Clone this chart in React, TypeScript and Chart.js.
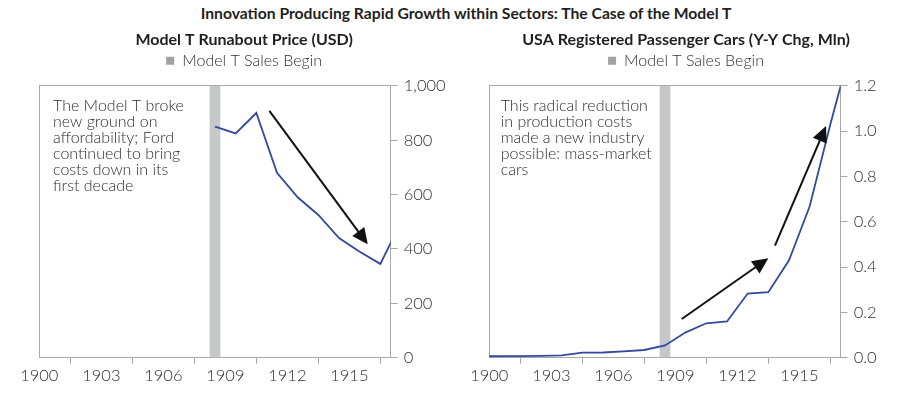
import React, { useEffect, useRef } from "react";
import { Chart, registerables } from "chart.js";

Chart.register(...registerables);

// ---------- data ----------
const MAIN_TITLE = "Innovation Producing Rapid Growth within Sectors: The Case of the Model T";
const LEFT_TITLE = "Model T Runabout Price (USD)";
const RIGHT_TITLE = "USA Registered Passenger Cars (Y-Y Chg, Mln)";
const LEGEND_LABEL = "Model T Sales Begin";

const xTickYears = [1900, 1903, 1906, 1909, 1912, 1915];
const X_MIN = 1900;
const X_MAX = 1917;
const SALES_BEGIN = 1908.5;

// annual values, plotted at mid-year
const priceYears = [1908, 1909, 1910, 1911, 1912, 1913, 1914, 1915, 1916, 1917];
const priceUsd = [850, 825, 900, 680, 590, 525, 440, 390, 345, 500];

const carYears = [1899, 1900, 1901, 1902, 1903, 1904, 1905, 1906, 1907, 1908, 1909, 1910, 1911, 1912, 1913, 1914, 1915, 1916, 1917];
const carChgMln = [0.006, 0.007, 0.007, 0.008, 0.01, 0.022, 0.023, 0.028, 0.034, 0.054, 0.112, 0.152, 0.16, 0.283, 0.289, 0.43, 0.668, 1.03, 1.37];

const leftYTicks = [0, 200, 400, 600, 800, 1000];
const rightYTicks = [0, 0.2, 0.4, 0.6, 0.8, 1.0, 1.2];

const leftNote = [
  "The Model T broke",
  "new ground on",
  "affordability; Ford",
  "continued to bring",
  "costs down in its",
  "first decade",
];
const rightNote = [
  "This radical reduction",
  "in production costs",
  "made a new industry",
  "possible: mass-market",
  "cars",
];

// arrows in data units: [fromX, fromY, toX, toY]
const leftArrows = [[1911.13, 908, 1915.89, 417]];
const rightArrows = [
  [1909.31, 0.171, 1913.5, 0.439],
  [1913.82, 0.495, 1916.29, 1.023],
];

// ---------- styles ----------
const FONT = "Lato, 'Open Sans', sans-serif";
const LIGHT = 300;
const TEXT = "#2e2e2e";
const TITLE_COLOR = "#1f1f1f";
const AXIS = "#a8a8a8";
const LINE_COLOR = "#3548a0";
const SHADE = "#c6c7c9";
const LEGEND_BOX = "#a2a2a2";
const ARROW = "#111111";

const notesPlugin = {
  id: "notes",
  afterDatasetsDraw(chart: any, _args: any, opts: any) {
    const { ctx, chartArea, scales } = chart;
    ctx.save();
    ctx.fillStyle = TEXT;
    ctx.font = `${LIGHT} 16px ${FONT}`;
    ctx.textAlign = "left";
    ctx.textBaseline = "alphabetic";
    (opts.lines || []).forEach((line: string, i: number) => {
      ctx.fillText(line, chartArea.left + opts.dx, chartArea.top + opts.dy + i * opts.lh);
    });
    for (const a of opts.arrows || []) {
      const x1 = scales.x.getPixelForValue(a[0]);
      const y1 = scales.y.getPixelForValue(a[1]);
      const x2 = scales.x.getPixelForValue(a[2]);
      const y2 = scales.y.getPixelForValue(a[3]);
      const ang = Math.atan2(y2 - y1, x2 - x1);
      const hl = 16;
      const hw = 7.5;
      const bx = x2 - hl * Math.cos(ang);
      const by = y2 - hl * Math.sin(ang);
      ctx.strokeStyle = ARROW;
      ctx.lineWidth = 2;
      ctx.beginPath();
      ctx.moveTo(x1, y1);
      ctx.lineTo(bx + 2 * Math.cos(ang), by + 2 * Math.sin(ang));
      ctx.stroke();
      ctx.fillStyle = ARROW;
      ctx.beginPath();
      ctx.moveTo(x2, y2);
      ctx.lineTo(bx - hw * Math.sin(ang), by + hw * Math.cos(ang));
      ctx.lineTo(bx + hw * Math.sin(ang), by - hw * Math.cos(ang));
      ctx.closePath();
      ctx.fill();
    }
    ctx.restore();
  },
};

type PanelParams = {
  title: string;
  seriesLabel: string;
  years: number[];
  values: number[];
  yTicks: number[];
  fmt: (v: number) => string;
  padLeft: number;
  padRight: number;
  yWidth: number;
  note: string[];
  noteDx: number;
  arrows: number[][];
};

function buildConfig(p: PanelParams): any {
  const yMax = p.yTicks[p.yTicks.length - 1];
  return {
    type: "line",
    data: {
      datasets: [
        {
          type: "line",
          label: p.seriesLabel,
          data: p.years.map((yr, i) => ({ x: yr + 0.5, y: p.values[i] })),
          borderColor: LINE_COLOR,
          borderWidth: 1.8,
          pointRadius: 0,
          fill: false,
          tension: 0,
          order: 1,
          xAxisID: "x",
          yAxisID: "y",
        },
        {
          type: "bar",
          label: LEGEND_LABEL,
          data: [{ x: SALES_BEGIN, y: yMax }],
          backgroundColor: SHADE,
          borderWidth: 0,
          barThickness: 10,
          order: 2,
          xAxisID: "x",
          yAxisID: "y",
        },
      ],
    },
    options: {
      responsive: false,
      animation: false,
      events: [],
      layout: { padding: { left: p.padLeft, right: p.padRight, top: 0, bottom: 0 } },
      plugins: {
        title: {
          display: true,
          text: p.title,
          color: TITLE_COLOR,
          font: { family: FONT, size: 16, weight: "bold" },
          padding: { top: 3.8, bottom: 0 },
        },
        legend: {
          display: true,
          labels: {
            generateLabels: (chart: any) =>
              Chart.defaults.plugins.legend.labels
                .generateLabels(chart)
                .map((l: any) => ({ ...l, fillStyle: LEGEND_BOX, strokeStyle: LEGEND_BOX, lineWidth: 0 })),
            filter: (item: any) => item.text === LEGEND_LABEL,
            boxWidth: 8,
            boxHeight: 8,
            padding: 3.8,
            color: TEXT,
            font: { family: FONT, size: 16, weight: LIGHT },
          },
        },
        tooltip: { enabled: false },
        notes: { lines: p.note, dx: p.noteDx, dy: 25.5, lh: 15.85, arrows: p.arrows },
      },
      scales: {
        x: {
          type: "linear",
          position: "bottom",
          min: X_MIN,
          max: X_MAX,
          offset: false,
          afterBuildTicks: (s: any) => {
            s.ticks = xTickYears.map((v) => ({ value: v }));
          },
          afterFit: (s: any) => {
            s.height = 38.3;
          },
          grid: { drawOnChartArea: false, drawTicks: true, tickLength: 6, color: AXIS },
          border: { display: true, color: AXIS },
          ticks: {
            color: TEXT,
            font: { family: FONT, size: 16.5, weight: LIGHT },
            padding: 2.5,
            maxRotation: 0,
            autoSkip: false,
            callback: (v: any) => String(v),
          },
        },
        y: {
          type: "linear",
          position: "right",
          min: 0,
          max: yMax,
          afterBuildTicks: (s: any) => {
            s.ticks = p.yTicks.map((v) => ({ value: v }));
          },
          afterFit: (s: any) => {
            s.width = p.yWidth;
          },
          grid: { drawOnChartArea: false, drawTicks: true, tickLength: 7, color: AXIS },
          border: { display: true, color: AXIS },
          ticks: {
            color: TEXT,
            font: { family: FONT, size: 16.5, weight: LIGHT },
            padding: 6,
            callback: (v: any) => p.fmt(Number(v)),
          },
        },
        xTop: {
          type: "linear",
          position: "top",
          min: X_MIN,
          max: X_MAX,
          afterFit: (s: any) => {
            s.height = 7;
          },
          grid: { display: false },
          ticks: { display: false },
          border: { display: true, color: AXIS },
        },
        yLeft: {
          type: "linear",
          position: "left",
          min: 0,
          max: yMax,
          afterFit: (s: any) => {
            s.width = 0;
          },
          grid: { display: false },
          ticks: { display: false },
          border: { display: true, color: AXIS },
        },
      },
    },
    plugins: [notesPlugin],
  };
}

const CANVAS_W = 452;
const CANVAS_H = 370;
const CANVAS_TOP = 26;

function ChartPanel({ params, left }: { params: PanelParams; left: number }) {
  const ref = useRef<HTMLCanvasElement | null>(null);
  useEffect(() => {
    if (!ref.current) return;
    const chart = new Chart(ref.current, buildConfig(params));
    return () => chart.destroy();
  }, []);
  return (
    <canvas
      ref={ref}
      width={CANVAS_W}
      height={CANVAS_H}
      style={{ position: "absolute", left, top: CANVAS_TOP, width: CANVAS_W, height: CANVAS_H }}
    />
  );
}

const leftParams: PanelParams = {
  title: LEFT_TITLE,
  seriesLabel: "Model T Runabout Price",
  years: priceYears,
  values: priceUsd,
  yTicks: leftYTicks,
  fmt: (v) => v.toLocaleString("en-US"),
  padLeft: 39.3,
  padRight: 3,
  yWidth: 58.3,
  note: leftNote,
  noteDx: 13.7,
  arrows: leftArrows,
};

const rightParams: PanelParams = {
  title: RIGHT_TITLE,
  seriesLabel: "Registered Passenger Cars Y-Y Chg",
  years: carYears,
  values: carChgMln,
  yTicks: rightYTicks,
  fmt: (v) => v.toFixed(1),
  padLeft: 37.3,
  padRight: 21.3,
  yWidth: 42,
  note: rightNote,
  noteDx: 11.4,
  arrows: rightArrows,
};

export default function App() {
  return (
    <div
      style={{
        position: "absolute",
        left: 0,
        top: 0,
        width: 904,
        height: 396,
        background: "#ffffff",
        overflow: "hidden",
      }}
    >
      <div
        style={{
          position: "absolute",
          left: 466,
          top: 4,
          transform: "translateX(-50%)",
          whiteSpace: "nowrap",
          fontFamily: FONT,
          fontWeight: 700,
          fontSize: 15.7,
          lineHeight: "19px",
          color: TITLE_COLOR,
        }}
      >
        {MAIN_TITLE}
      </div>
      <ChartPanel params={leftParams} left={0} />
      <ChartPanel params={rightParams} left={452} />
    </div>
  );
}
